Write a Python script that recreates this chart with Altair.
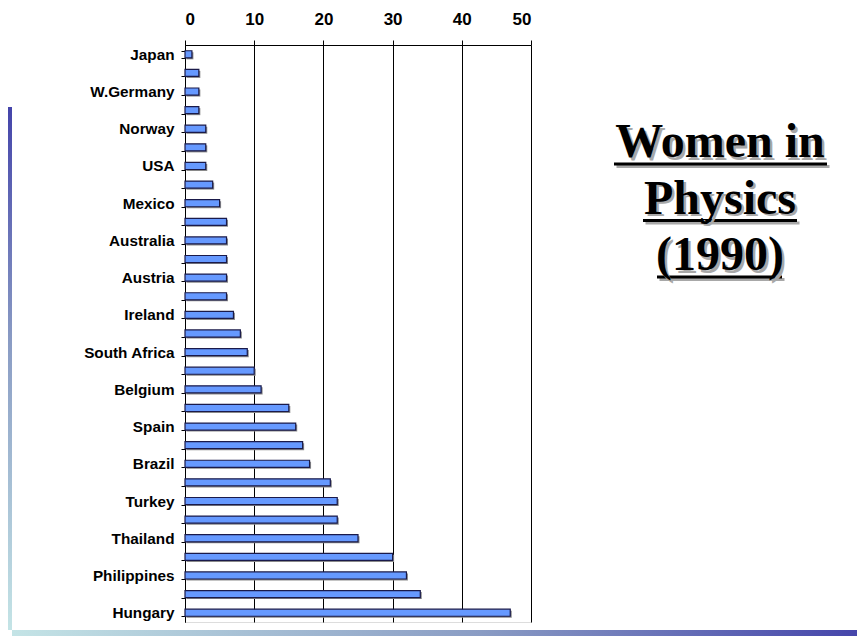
import altair as alt
import pandas as pd

# ---- data ----
categories = ["Japan", "#2", "W.Germany", "#4", "Norway", "#6", "USA", "#8",
              "Mexico", "#10", "Australia", "#12", "Austria", "#14", "Ireland",
              "#16", "South Africa", "#18", "Belgium", "#20", "Spain", "#22",
              "Brazil", "#24", "Turkey", "#26", "Thailand", "#28", "Philippines",
              "#30", "Hungary"]
values = [1, 2, 2, 2, 3, 3, 3, 4, 5, 6, 6, 6, 6, 6, 7, 8, 9, 10, 11, 15, 16, 17,
          18, 21, 22, 22, 25, 30, 32, 34, 47]
x_ticks = [0, 10, 20, 30, 40, 50]
title_lines = ["Women in", "Physics", "(1990)"]

df = pd.DataFrame({"country": categories, "pct": values})
one = pd.DataFrame({"t": ["\n".join(title_lines)]})

W, H = 346, 577

xs = alt.Scale(domain=[0, 50], nice=False, zero=True)
ys = alt.Scale(domain=categories, paddingInner=0.62, paddingOuter=0.31)

x_axis = alt.Axis(orient="top", values=x_ticks, title=None, labelFontSize=17,
                  labelFontWeight="bold", labelFont="Liberation Sans",
                  labelColor="black", labelPadding=12, tickSize=5,
                  tickColor="black", domainColor="black", grid=True,
                  gridColor="black", gridOpacity=1, gridWidth=1)
y_axis = alt.Axis(title=None, labelFontSize=15.3, labelFontWeight="bold",
                  labelFont="Liberation Sans", labelColor="black",
                  labelPadding=7, tickSize=4, tickColor="black",
                  domainColor="black", tickBand="extent", grid=False,
                  labelExpr="substring(datum.label,0,1) == '#' ? '' : datum.label")

shadow = alt.Chart(df).mark_bar(color="#8a8a8a", xOffset=1.5, yOffset=1.5).encode(
    x=alt.X("pct:Q", scale=xs, axis=x_axis),
    y=alt.Y("country:N", sort=categories, scale=ys, axis=y_axis),
)
bars = alt.Chart(df).mark_bar(fill="#6699ff", stroke="#1a1a4a", strokeWidth=1.2).encode(
    x=alt.X("pct:Q", scale=xs),
    y=alt.Y("country:N", sort=categories, scale=ys),
)

# slide template decoration (gradient strips)
left_grad = alt.Gradient(gradient="linear", x1=0, x2=0, y1=0, y2=1,
                         stops=[alt.GradientStop(color="#4444aa", offset=0),
                                alt.GradientStop(color="#8a9cc4", offset=0.45),
                                alt.GradientStop(color="#c4e4e6", offset=1)])
bottom_grad = alt.Gradient(gradient="linear", x1=0, x2=1, y1=0, y2=0,
                           stops=[alt.GradientStop(color="#c4e4e6", offset=0),
                                  alt.GradientStop(color="#8a9cc4", offset=0.55),
                                  alt.GradientStop(color="#4444aa", offset=1)])
left_strip = alt.Chart(one).mark_rect(color=left_grad).encode(
    x=alt.value(-182), x2=alt.value(-173), y=alt.value(62), y2=alt.value(585))
bottom_strip = alt.Chart(one).mark_rect(color=bottom_grad).encode(
    x=alt.value(-173), x2=alt.value(680), y=alt.value(585), y2=alt.value(591))

# title block
tx, ty = 535, 112
t_shadow = alt.Chart(one).mark_text(font="Liberation Serif", fontSize=48,
                                    fontWeight="bold", align="center",
                                    baseline="alphabetic", lineBreak="\n",
                                    lineHeight=56.5, color="#a8a8a8").encode(
    x=alt.value(tx + 2.5), y=alt.value(ty + 2.5), text="t:N")
t_main = alt.Chart(one).mark_text(font="Liberation Serif", fontSize=48,
                                  fontWeight="bold", align="center",
                                  baseline="alphabetic", lineBreak="\n",
                                  lineHeight=56.5, color="black").encode(
    x=alt.value(tx), y=alt.value(ty), text="t:N")

underlines = []
for (x1, x2, yy) in [(429, 642, 119), (458, 612, 175.5), (472, 597, 232)]:
    underlines.append(alt.Chart(one).mark_rule(color="#a8a8a8", strokeWidth=3).encode(
        x=alt.value(x1 + 2.5), x2=alt.value(x2 + 2.5), y=alt.value(yy + 2.5)))
    underlines.append(alt.Chart(one).mark_rule(color="black", strokeWidth=3).encode(
        x=alt.value(x1), x2=alt.value(x2), y=alt.value(yy)))

chart = alt.layer(shadow, bars, left_strip, bottom_strip, *underlines, t_shadow, t_main).properties(
    width=W, height=H,
    autosize=alt.AutoSizeParams(type="none"),
    padding={"left": 177, "top": 37, "right": 326, "bottom": 14},
).configure_view(stroke=None).configure(background="white")

chart.save("out.html", embed_options={"renderer": "svg", "actions": False})
